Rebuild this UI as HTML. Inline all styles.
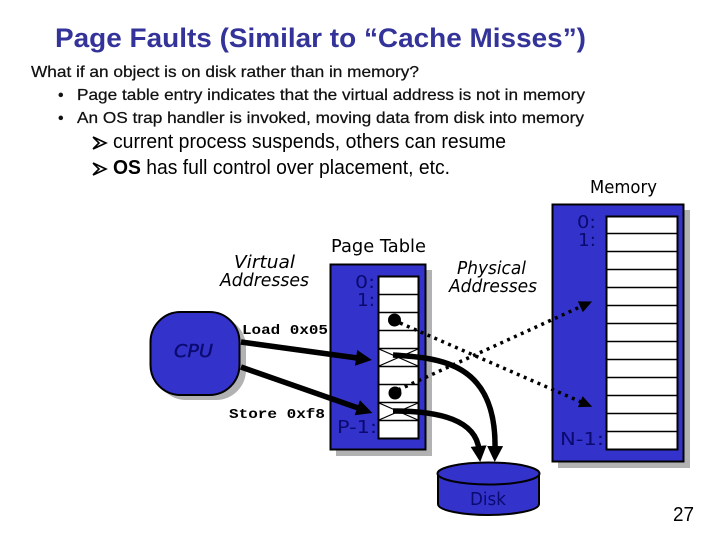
<!DOCTYPE html>
<html><head><meta charset="utf-8"><style>
html,body{margin:0;padding:0;background:#fff;width:720px;height:540px;overflow:hidden}
svg{display:block}
.a{font-family:"Liberation Sans",Arial,sans-serif}
.d{font-family:"DejaVu Sans",sans-serif;font-size:18px;fill:#000}
.i{font-style:italic}
.n{fill:#0a0a70}
.m{font-family:"Liberation Mono",monospace;font-weight:bold;font-size:14px;fill:#000}
</style></head><body>
<svg width="720" height="540" viewBox="0 0 720 540" xmlns="http://www.w3.org/2000/svg">
<defs>
<marker id="ah" markerUnits="userSpaceOnUse" markerWidth="20" markerHeight="18" refX="4" refY="8" orient="auto"><path d="M0,0L16,8L0,16Z" fill="#000"/></marker>
<marker id="ad" markerUnits="userSpaceOnUse" markerWidth="16" markerHeight="14" refX="3" refY="6" orient="auto"><path d="M0,0L13,6L0,12Z" fill="#000"/></marker>
</defs>
<text class="a" x="55" y="47" font-size="27" font-weight="bold" fill="#333399" textLength="531" lengthAdjust="spacingAndGlyphs">Page Faults (Similar to “Cache Misses”)</text>
<g class="a" fill="#111" font-size="16" stroke="#111" stroke-width="0.25">
<text x="31" y="77" textLength="388" lengthAdjust="spacingAndGlyphs">What if an object is on disk rather than in memory?</text>
<text x="58" y="100">•</text>
<text x="77" y="100" textLength="508" lengthAdjust="spacingAndGlyphs">Page table entry indicates that the virtual address is not in memory</text>
<text x="58" y="123">•</text>
<text x="77" y="123" textLength="507" lengthAdjust="spacingAndGlyphs">An OS trap handler is invoked, moving data from disk into memory</text>
</g>
<g class="a" fill="#000" font-size="20">
<path d="M93,137L106,143L93,149M93,137L99,143L93,149" fill="none" stroke="#000" stroke-width="1.6"/>
<text x="113" y="148" textLength="393" lengthAdjust="spacingAndGlyphs">current process suspends, others can resume</text>
<path d="M93,163L106,169L93,175M93,163L99,169L93,175" fill="none" stroke="#000" stroke-width="1.6"/>
<text x="113" y="174" textLength="337" lengthAdjust="spacingAndGlyphs"><tspan font-weight="bold">OS</tspan> has full control over placement, etc.</text>
</g>

<!-- CPU -->
<rect x="156" y="317" width="90" height="83" rx="30" fill="#b2b2b2"/>
<rect x="150.500" y="312" width="89" height="83" rx="30" fill="#3333cc" stroke="#000" stroke-width="2"/>
<text class="d n i" x="174" y="357" textLength="39" lengthAdjust="spacingAndGlyphs" stroke="#0a0a70" stroke-width="0.4">CPU</text>

<!-- Page table -->
<rect x="336" y="270" width="96" height="186" fill="#b2b2b2"/>
<rect x="330.500" y="264.500" width="95" height="185" fill="#3333cc" stroke="#000" stroke-width="2"/>
<rect x="378.500" y="276.500" width="40" height="162" fill="#fff" stroke="#000" stroke-width="2"/>
<path d="M378,294.500H419M378,312.500H419M378,330.500H419M378,348.500H419M378,366.500H419M378,384.500H419M378,402.500H419M378,420.500H419" stroke="#000" stroke-width="1.500"/>
<path d="M379,349L418,366M379,366L418,349M379,403L418,420M379,420L418,403" stroke="#000" stroke-width="1.200"/>
<circle cx="394.500" cy="320" r="6.500" fill="#000"/>
<circle cx="395" cy="393" r="6.500" fill="#000"/>
<text class="d n" x="355" y="288" textLength="20" lengthAdjust="spacingAndGlyphs">0:</text>
<text class="d n" x="357" y="306" textLength="18" lengthAdjust="spacingAndGlyphs">1:</text>
<text class="d n" x="337" y="433" textLength="40" lengthAdjust="spacingAndGlyphs">P-1:</text>

<!-- Memory -->
<rect x="558" y="210" width="132" height="258" fill="#b2b2b2"/>
<rect x="552.500" y="204.500" width="131" height="257" fill="#3333cc" stroke="#000" stroke-width="2"/>
<rect x="606.500" y="216.500" width="71" height="233" fill="#fff" stroke="#000" stroke-width="2"/>
<path d="M606,233.500H678M606,251.500H678M606,269.500H678M606,287.500H678M606,305.500H678M606,323.500H678M606,341.500H678M606,359.500H678M606,377.500H678M606,395.500H678M606,413.500H678M606,431.500H678" stroke="#000" stroke-width="1.500"/>
<text class="d n" x="577" y="228" textLength="19" lengthAdjust="spacingAndGlyphs">0:</text>
<text class="d n" x="578" y="246" textLength="18" lengthAdjust="spacingAndGlyphs">1:</text>
<text class="d n" x="560" y="445" textLength="44" lengthAdjust="spacingAndGlyphs">N-1:</text>

<!-- Disk -->
<path d="M438,474V504C438,511 465,515 488,515C511,515 539,511 539,504V474Z" fill="#3333cc" stroke="#000" stroke-width="2"/>
<ellipse cx="488.500" cy="473.500" rx="51" ry="11" fill="#3333cc" stroke="#000" stroke-width="2"/>
<text class="d n" x="470" y="505" textLength="36" lengthAdjust="spacingAndGlyphs">Disk</text>

<!-- Labels -->
<text class="d" x="331" y="252" textLength="95" lengthAdjust="spacingAndGlyphs">Page Table</text>
<text class="d" x="590" y="193" textLength="67" lengthAdjust="spacingAndGlyphs">Memory</text>
<text class="d i" x="234" y="268" textLength="61" lengthAdjust="spacingAndGlyphs">Virtual</text>
<text class="d i" x="220" y="286" textLength="89" lengthAdjust="spacingAndGlyphs">Addresses</text>
<text class="d i" x="457" y="274" textLength="69" lengthAdjust="spacingAndGlyphs">Physical</text>
<text class="d i" x="449" y="292" textLength="88" lengthAdjust="spacingAndGlyphs">Addresses</text>
<text class="m" x="242" y="334" textLength="86" lengthAdjust="spacingAndGlyphs">Load 0x05</text>
<text class="m" x="229" y="418" textLength="96" lengthAdjust="spacingAndGlyphs">Store 0xf8</text>
<text class="a" x="673" y="521" font-size="20" fill="#000" textLength="21" lengthAdjust="spacingAndGlyphs">27</text>

<!-- Arrows -->
<path d="M241,342L360,358.400" fill="none" stroke="#000" stroke-width="5.500" marker-end="url(#ah)"/>
<path d="M241,367L361,409" fill="none" stroke="#000" stroke-width="5.500" marker-end="url(#ah)"/>
<path d="M393,355C440,358 497,362 495,450" fill="none" stroke="#000" stroke-width="5.500" marker-end="url(#ah)"/>
<path d="M393,411C440,411 476,420 479,450" fill="none" stroke="#000" stroke-width="5.500" marker-end="url(#ah)"/>
<path d="M400,323L583,402.800" fill="none" stroke="#000" stroke-width="3.500" stroke-dasharray="3 4.500" marker-end="url(#ad)"/>
<path d="M398,390L583,305.600" fill="none" stroke="#000" stroke-width="3.500" stroke-dasharray="3 4.500" marker-end="url(#ad)"/>
</svg>
</body></html>
